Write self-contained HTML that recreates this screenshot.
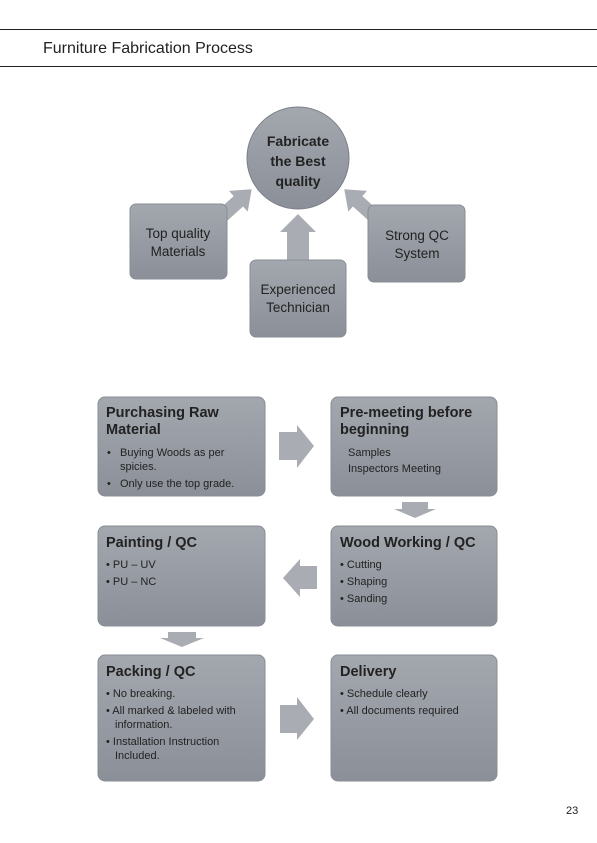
<!DOCTYPE html>
<html><head><meta charset="utf-8"><style>
html,body{margin:0;padding:0;background:#fff;}
svg{display:block;font-family:"Liberation Sans",sans-serif;}
</style></head><body>
<svg width="597" height="843" viewBox="0 0 597 843" xmlns="http://www.w3.org/2000/svg">
<defs>
<linearGradient id="g" x1="0" y1="0" x2="0" y2="1"><stop offset="0" stop-color="#a3a7ae"/><stop offset="1" stop-color="#8b8f98"/></linearGradient>
</defs>
<line x1="0" y1="29.5" x2="597" y2="29.5" stroke="#222" stroke-width="1"/>
<line x1="0" y1="66.5" x2="597" y2="66.5" stroke="#222" stroke-width="1"/>
<text x="43" y="53" font-size="16" fill="#222">Furniture Fabrication Process</text>

<!-- top arrows -->
<g fill="#a9adb3">
<polygon points="287,260 287,232 280,232 298,214 316,232 309,232 309,260"/>
<polygon transform="translate(222,216) rotate(-42)" points="0,-7 22,-7 22,-14 40,0 22,14 22,7 0,7"/>
<polygon transform="translate(374,216) rotate(-138)" points="0,-7 22,-7 22,-14 40,0 22,14 22,7 0,7"/>
</g>
<circle cx="298" cy="158" r="51" fill="url(#g)" stroke="#7b7f87"/>
<g font-size="14" font-weight="bold" fill="#222" text-anchor="middle">
<text x="298" y="146">Fabricate</text><text x="298" y="166">the Best</text><text x="298" y="186">quality</text></g>
<rect x="130" y="204" width="97" height="75" rx="6" fill="url(#g)" stroke="#888c94"/>
<rect x="250" y="260" width="96" height="77" rx="6" fill="url(#g)" stroke="#888c94"/>
<rect x="368" y="205" width="97" height="77" rx="6" fill="url(#g)" stroke="#888c94"/>
<g font-size="13.5" fill="#222" text-anchor="middle">
<text x="178" y="238">Top quality</text><text x="178" y="256">Materials</text>
<text x="298" y="294">Experienced</text><text x="298" y="312">Technician</text>
<text x="417" y="240">Strong QC</text><text x="417" y="258">System</text></g>

<!-- flow arrows -->
<g fill="#a9adb3">
<polygon points="279,432 297,432 297,425 314,446 297,468 297,460 279,460"/>
<polygon points="402,502 428,502 428,509 436,509 415,518 394,509 402,509"/>
<polygon points="317,566 300,566 300,559 283,578 300,597 300,589 317,589"/>
<polygon points="168,632 196,632 196,638 204,638 182,647 160,638 168,638"/>
<polygon points="280,705 297,705 297,697 314,719 297,740 297,733 280,733"/>
</g>
<g fill="url(#g)" stroke="#888c94">
<rect x="98" y="397" width="167" height="99" rx="7"/>
<rect x="331" y="397" width="166" height="99" rx="7"/>
<rect x="98" y="526" width="167" height="100" rx="7"/>
<rect x="331" y="526" width="166" height="100" rx="7"/>
<rect x="98" y="655" width="167" height="126" rx="7"/>
<rect x="331" y="655" width="166" height="126" rx="7"/>
</g>
<g font-size="14.5" font-weight="bold" fill="#222">
<text x="106" y="417">Purchasing Raw</text><text x="106" y="434">Material</text>
<text x="340" y="417">Pre-meeting before</text><text x="340" y="434">beginning</text>
<text x="106" y="547">Painting / QC</text>
<text x="340" y="547">Wood Working / QC</text>
<text x="106" y="676">Packing / QC</text>
<text x="340" y="676">Delivery</text>
</g>
<g font-size="11" fill="#222">
<text x="107" y="456">•</text><text x="120" y="456">Buying Woods as per</text><text x="120" y="470">spicies.</text>
<text x="107" y="487">•</text><text x="120" y="487">Only use the top grade.</text>
<text x="348" y="456">Samples</text><text x="348" y="472">Inspectors Meeting</text>
<text x="106" y="568">• PU – UV</text><text x="106" y="585">• PU – NC</text>
<text x="340" y="568">• Cutting</text><text x="340" y="585">• Shaping</text><text x="340" y="602">• Sanding</text>
<text x="106" y="697">• No breaking.</text><text x="106" y="714">• All marked &amp; labeled with</text><text x="115" y="728">information.</text>
<text x="106" y="745">• Installation Instruction</text><text x="115" y="759">Included.</text>
<text x="340" y="697">• Schedule clearly</text><text x="340" y="714">• All documents required</text>
</g>
<text x="566" y="814" font-size="11" fill="#222">23</text>
</svg>
</body></html>
